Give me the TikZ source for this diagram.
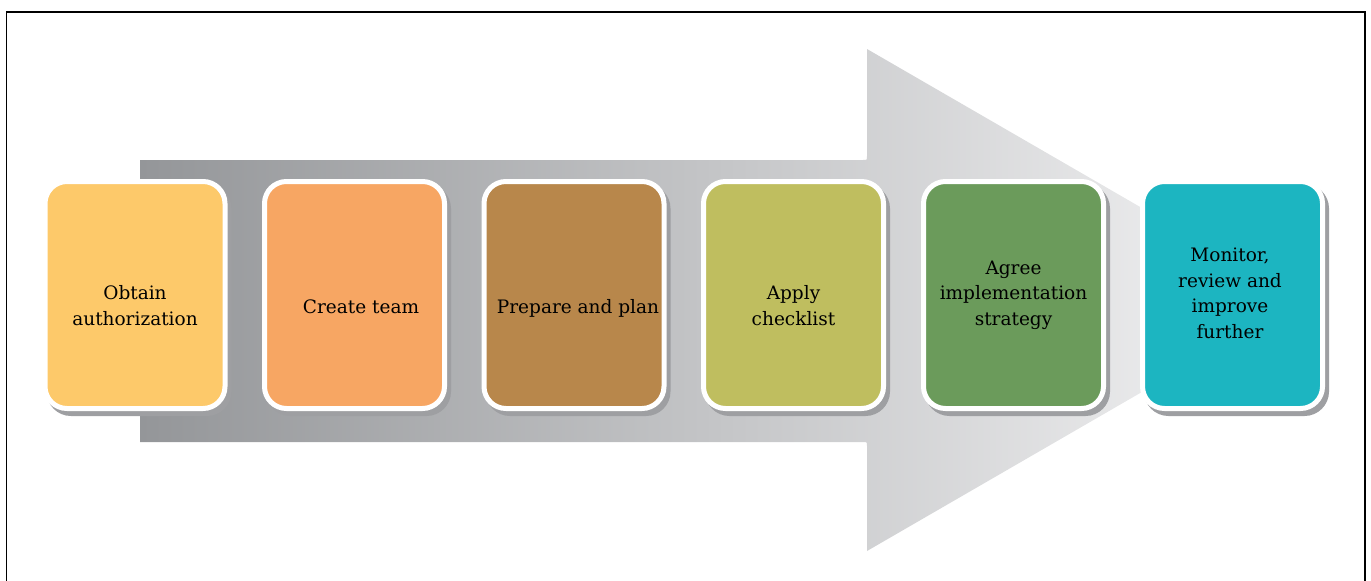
\documentclass[tikz,border=0pt]{standalone}
\usepackage{fontspec}
\setmainfont{DejaVu Serif}
\definecolor{shadowgray}{RGB}{158,159,162}
\definecolor{cyellow}{RGB}{253,201,106}
\definecolor{corange}{RGB}{247,166,99}
\definecolor{cbrown}{RGB}{184,135,75}
\definecolor{colive}{RGB}{191,190,95}
\definecolor{cgreen}{RGB}{107,155,91}
\definecolor{cteal}{RGB}{28,181,193}
\definecolor{arrowL}{RGB}{148,150,153}
\definecolor{arrowM}{RGB}{214,215,217}
\definecolor{arrowR}{RGB}{245,245,246}
\begin{document}
\begin{tikzpicture}[x=1pt,y=-1pt,
  box/.style={rounded corners=22pt, minimum width=180pt, minimum height=227pt,
    draw=white, line width=5pt, inner sep=0pt,
    preaction={fill=shadowgray, draw=shadowgray, transform canvas={shift={(4pt,-5pt)}}}},
  lbl/.style={align=center, font=\fontsize{18.5}{25.5}\selectfont, anchor=base, inner sep=0pt, text=black}]
\useasboundingbox (0,0) rectangle (1371,581);
% frame
\draw[line width=1.3pt] (6.5,581) -- (6.5,12) -- (1365,12) -- (1365,581);
% big arrow
\shade[left color=arrowL, middle color=arrowM, right color=arrowR]
  (140,160) -- (863,160) .. controls (867,160) .. (867,156) -- (867,49) -- (1301,300)
  -- (867,551) -- (867,446) .. controls (867,442) .. (863,442) -- (140,442) -- cycle;
% boxes
\node[box, fill=cyellow] (b1) at (135,295) {};
\node[box, fill=corange] (b2) at (354.5,295) {};
\node[box, fill=cbrown]  (b3) at (574,295) {};
\node[box, fill=colive]  (b4) at (793.5,295) {};
\node[box, fill=cgreen]  (b5) at (1013.5,295) {};
\node[box, fill=cteal]   (b6) at (1232.5,295) {};
% labels
\node[lbl] (t1) at (135,325) {Obtain\\authorization};
\node[lbl] (t2) at (361,313) {Create team};
\node[lbl] (t3) at (578,313) {Prepare and plan};
\node[lbl] (t4) at (793.5,325) {Apply\\checklist};
\node[lbl] (t5) at (1013.5,325) {Agree\\implementation\\strategy};
\node[lbl] (t6) at (1230,338) {Monitor,\\review and\\improve\\further};
\end{tikzpicture}
\end{document}
